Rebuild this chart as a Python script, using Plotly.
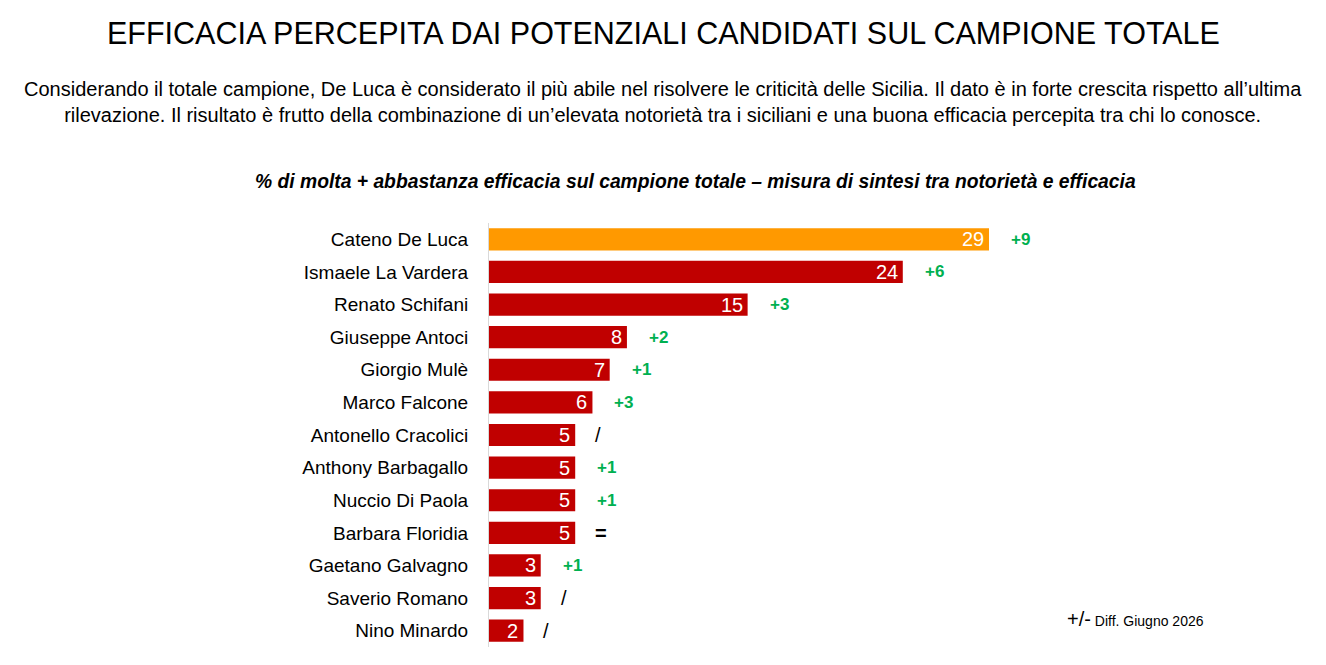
import plotly.graph_objects as go

names = ["Cateno De Luca","Ismaele La Vardera","Renato Schifani","Giuseppe Antoci","Giorgio Mulè",
         "Marco Falcone","Antonello Cracolici","Anthony Barbagallo","Nuccio Di Paola","Barbara Floridia",
         "Gaetano Galvagno","Saverio Romano","Nino Minardo"]
values = [29,24,15,8,7,6,5,5,5,5,3,3,2]
diffs = ["+9","+6","+3","+2","+1","+3","/","+1","+1","=","+1","/","/"]

colors = ["#FF9900"] + ["#C00000"]*(len(names)-1)

fig = go.Figure()
fig.add_trace(go.Bar(
    y=names, x=values, orientation="h", marker=dict(color=colors, line=dict(width=0)),
    width=0.68, hoverinfo="skip"))

for n, v, d in zip(names, values, diffs):
    fig.add_annotation(x=v, y=n, text=str(v), xanchor="right", xshift=-3, showarrow=False,
                       font=dict(color="white", size=20, family="Liberation Sans"))
    green = d.startswith("+")
    fig.add_annotation(x=v, y=n, text=f"<b>{d}</b>" if green or d == "=" else d, xanchor="left",
                       xshift=20 if green else 18, showarrow=False,
                       font=dict(color="#00B050" if green else "black",
                                 size=17 if green else 20, family="Liberation Sans"))

L, R, T, B = 481, 145, 215, 26
W = 1326 - L - R
fig.add_annotation(xref="paper", yref="paper", x=(1198 - L) / W, y=0.035, xanchor="right", showarrow=False,
                   text="<span style='font-size:20px'>+/-</span> Diff. Giugno 2026",
                   font=dict(size=14, color="black", family="Liberation Sans"))

fig.update_layout(
    width=1326, height=665, plot_bgcolor="white", paper_bgcolor="white",
    margin=dict(l=L, r=R, t=T, b=B), showlegend=False,
    font=dict(family="Liberation Sans", color="black"),
    xaxis=dict(range=[0, 40.6], visible=False, automargin=False),
    yaxis=dict(autorange="reversed", showline=True, linecolor="#D9D9D9", linewidth=1, automargin=False,
               ticks="", ticklabelstandoff=16, tickfont=dict(size=19, color="black"), showgrid=False),
)

cx = (655 - L) / W
fig.add_annotation(xref="paper", yref="paper", x=cx, xanchor="center", y=1, yshift=190, showarrow=False,
                   text="EFFICACIA PERCEPITA DAI POTENZIALI CANDIDATI SUL CAMPIONE TOTALE",
                   font=dict(size=30.5, color="black"), yanchor="middle")
fig.add_annotation(xref="paper", yref="paper", x=cx, xanchor="center", y=1, yshift=121, showarrow=False,
                   text="Considerando il totale campione, De Luca è considerato il più abile nel risolvere le criticità delle Sicilia. Il dato è in forte crescita rispetto all’ultima<br>rilevazione. Il risultato è frutto della combinazione di un’elevata notorietà tra i siciliani e una buona efficacia percepita tra chi lo conosce.",
                   font=dict(size=20, color="black"), yanchor="middle", align="center")
fig.add_annotation(xref="paper", yref="paper", x=(687 - L) / W, xanchor="center", y=1, yshift=42, showarrow=False,
                   text="<b><i>% di molta + abbastanza efficacia sul campione totale – misura di sintesi tra notorietà e efficacia</i></b>",
                   font=dict(size=19.3, color="black"), yanchor="middle")

fig.write_html("out.html")
